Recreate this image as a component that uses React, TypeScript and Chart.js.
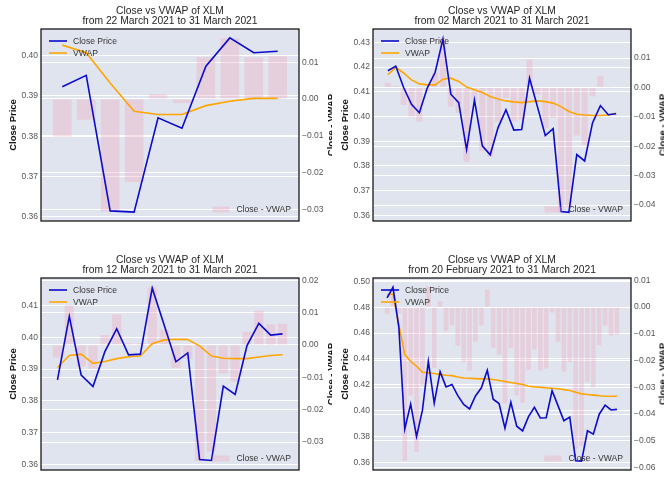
import React, { useEffect, useRef } from "react";
import { Chart, registerables } from "chart.js";

Chart.register(...registerables);

const FONT = "'Liberation Sans', Arial, Helvetica, sans-serif";

// Daily dates, 20 Feb 2021 .. 31 Mar 2021
const dates = [
  "2021-02-20", "2021-02-21", "2021-02-22", "2021-02-23", "2021-02-24", "2021-02-25", "2021-02-26", "2021-02-27", "2021-02-28",
  "2021-03-01", "2021-03-02", "2021-03-03", "2021-03-04", "2021-03-05", "2021-03-06", "2021-03-07", "2021-03-08", "2021-03-09",
  "2021-03-10", "2021-03-11", "2021-03-12", "2021-03-13", "2021-03-14", "2021-03-15", "2021-03-16", "2021-03-17", "2021-03-18",
  "2021-03-19", "2021-03-20", "2021-03-21", "2021-03-22", "2021-03-23", "2021-03-24", "2021-03-25", "2021-03-26", "2021-03-27",
  "2021-03-28", "2021-03-29", "2021-03-30", "2021-03-31",
];

// XLM close price for the same days
const closeAll = [
  0.4872, 0.4954, 0.4643, 0.3860, 0.4052, 0.3802, 0.4005, 0.4382, 0.4060, 0.4303,
  0.4185, 0.4204, 0.4117, 0.4049, 0.4015, 0.4115, 0.4178, 0.4313, 0.4090, 0.4056,
  0.3866, 0.4066, 0.3881, 0.3845, 0.3955, 0.4027, 0.3945, 0.3947, 0.4155, 0.4040,
  0.3923, 0.3951, 0.3615, 0.3612, 0.3846, 0.3820, 0.3974, 0.4044, 0.4007, 0.4011,
];

// VWAP per window
const vwap22 = [0.4026, 0.4007, 0.3932, 0.3862, 0.3854, 0.3854, 0.3876, 0.3887, 0.3894, 0.3894];
const vwap02 = [
  0.4169, 0.4199, 0.4176, 0.4148, 0.4132, 0.4128, 0.4128, 0.4151, 0.4155, 0.4142,
  0.4119, 0.4108, 0.4097, 0.4081, 0.4071, 0.4063, 0.4059, 0.4056, 0.4060, 0.4063,
  0.4060, 0.4054, 0.4040, 0.4020, 0.4009, 0.4006, 0.4004, 0.4004, 0.4006, 0.4013,
];
const vwap12 = [
  0.3905, 0.3943, 0.3947, 0.3918, 0.3924, 0.3933, 0.3939, 0.3941, 0.3980, 0.3992,
  0.3994, 0.3993, 0.3973, 0.3941, 0.3934, 0.3933, 0.3933, 0.3938, 0.3943, 0.3945,
];
const vwap20 = [
  0.4897, 0.4902, 0.4666, 0.4434, 0.4383, 0.4344, 0.4298, 0.4293, 0.4288, 0.4280,
  0.4275, 0.4272, 0.4262, 0.4254, 0.4252, 0.4249, 0.4247, 0.4247, 0.4242, 0.4234,
  0.4226, 0.4219, 0.4211, 0.4203, 0.4190, 0.4185, 0.4182, 0.4177, 0.4175, 0.4170,
  0.4164, 0.4157, 0.4144, 0.4131, 0.4126, 0.4121, 0.4116, 0.4113, 0.4113, 0.4113,
];

// Close - VWAP per window
const diff22 = [-0.0102, -0.0056, -0.0305, -0.0225, 0.0013, -0.0011, 0.0113, 0.0165, 0.0113, 0.0116];
const diff02 = [
  0.0016, 0.0005, -0.0059, -0.0099, -0.0117, -0.0013, 0.0050, 0.0168, -0.0065, -0.0086,
  -0.0253, -0.0042, -0.0216, -0.0236, -0.0116, -0.0036, -0.0114, -0.0109, 0.0095, -0.0023,
  -0.0137, -0.0103, -0.0425, -0.0408, -0.0163, -0.0195, -0.0030, 0.0040, 0.0001, -0.0002,
];
const diff12 = [
  -0.0039, 0.0123, -0.0066, -0.0073, 0.0031, 0.0094, 0.0006, 0.0006, 0.0178, 0.0048,
  -0.0071, -0.0042, -0.0358, -0.0329, -0.0088, -0.0113, 0.0041, 0.0106, 0.0064, 0.0066,
];
const diff20 = [
  -0.0025, 0.0052, -0.0023, -0.0574, -0.0331, -0.0542, -0.0293, 0.0078, -0.0228, 0.0023,
  -0.0090, -0.0068, -0.0145, -0.0205, -0.0237, -0.0129, -0.0069, 0.0066, -0.0152, -0.0178,
  -0.0360, -0.0153, -0.0330, -0.0358, -0.0235, -0.0158, -0.0237, -0.0230, -0.0020, -0.0130,
  -0.0241, -0.0206, -0.0529, -0.0519, -0.0280, -0.0301, -0.0142, -0.0069, -0.0106, -0.0102,
];

// Tick values
const ticks22L = [0.36, 0.37, 0.38, 0.39, 0.4];
const ticks22R = [-0.03, -0.02, -0.01, 0, 0.01];
const ticks02L = [0.36, 0.37, 0.38, 0.39, 0.4, 0.41, 0.42, 0.43];
const ticks02R = [-0.04, -0.03, -0.02, -0.01, 0, 0.01];
const ticks12L = [0.36, 0.37, 0.38, 0.39, 0.4, 0.41];
const ticks12R = [-0.03, -0.02, -0.01, 0, 0.01, 0.02];
const ticks20L = [0.36, 0.38, 0.4, 0.42, 0.44, 0.46, 0.48, 0.5];
const ticks20R = [-0.06, -0.05, -0.04, -0.03, -0.02, -0.01, 0, 0.01];

// Axis ranges [min, max]
const range22L = [0.359, 0.4066];
const range22R = [-0.0331, 0.019];
const range02L = [0.3577, 0.4354];
const range02R = [-0.0454, 0.0199];
const range12L = [0.3582, 0.4187];
const range12R = [-0.0386, 0.0207];
const range20L = [0.3543, 0.5026];
const range20R = [-0.0609, 0.0109];

const TITLE = "Close vs VWAP of XLM";
const subtitles = [
  "from 22 March 2021 to 31 March 2021",
  "from 02 March 2021 to 31 March 2021",
  "from 12 March 2021 to 31 March 2021",
  "from 20 February 2021 to 31 March 2021",
];

const CLOSE_COLOR = "#0b0bcc";
const VWAP_COLOR = "#ffa500";
const BAR_COLOR = "rgba(240,170,190,0.36)";
const BG = "#e0e4ee";

const panels = [
  { left: 0, top: 0, start: 30, sub: subtitles[0], vwap: vwap22, diff: diff22, rl: range22L, rr: range22R, tl: ticks22L, tr: ticks22R },
  { left: 332, top: 0, start: 10, sub: subtitles[1], vwap: vwap02, diff: diff02, rl: range02L, rr: range02R, tl: ticks02L, tr: ticks02R },
  { left: 0, top: 249, start: 20, sub: subtitles[2], vwap: vwap12, diff: diff12, rl: range12L, rr: range12R, tl: ticks12L, tr: ticks12R },
  { left: 332, top: 249, start: 0, sub: subtitles[3], vwap: vwap20, diff: diff20, rl: range20L, rr: range20R, tl: ticks20L, tr: ticks20R },
];

const fmt = (v: number) => {
  const s = (Math.abs(v) < 1e-9 ? 0 : v).toFixed(2);
  return s.replace("-", "\u2212");
};

const decoPlugin = {
  id: "deco",
  beforeDraw(chart: any) {
    const { ctx, chartArea: a } = chart;
    ctx.save();
    ctx.fillStyle = BG;
    ctx.fillRect(a.left, a.top, a.right - a.left, a.bottom - a.top);
    ctx.restore();
  },
  afterDraw(chart: any, _args: any, opts: any) {
    const { ctx, chartArea: a } = chart;
    ctx.save();
    // frame
    ctx.strokeStyle = "#111";
    ctx.lineWidth = 1.25;
    ctx.strokeRect(a.left, a.top, a.right - a.left, a.bottom - a.top);
    // title
    const cx = (a.left + a.right) / 2;
    ctx.fillStyle = "#262626";
    ctx.font = `10.3px ${FONT}`;
    ctx.textAlign = "center";
    ctx.textBaseline = "middle";
    ctx.fillText(TITLE, cx, 11.5);
    ctx.fillText(opts.sub, cx, 21.5);
    // upper-left legend
    ctx.font = `8.6px ${FONT}`;
    ctx.textAlign = "left";
    ctx.fillStyle = "#333";
    const rows = [
      { label: "Close Price", color: CLOSE_COLOR, y: a.top + 12 },
      { label: "VWAP", color: VWAP_COLOR, y: a.top + 24 },
    ];
    rows.forEach((r) => {
      ctx.strokeStyle = r.color;
      ctx.lineWidth = 1.6;
      ctx.beginPath();
      ctx.moveTo(a.left + 8, r.y);
      ctx.lineTo(a.left + 26, r.y);
      ctx.stroke();
      ctx.fillText(r.label, a.left + 32, r.y + 0.5);
    });
    // lower-right legend
    const ly = a.bottom - 11.5;
    ctx.textAlign = "right";
    const lbl = "Close - VWAP";
    const tx = a.right - 8;
    ctx.fillText(lbl, tx, ly + 0.5);
    const w = ctx.measureText(lbl).width;
    ctx.fillStyle = BAR_COLOR;
    ctx.fillRect(tx - w - 24, ly - 3, 17, 6);
    ctx.restore();
  },
};

function Panel({ cfg }: { cfg: any }) {
  const ref = useRef<HTMLCanvasElement | null>(null);
  useEffect(() => {
    const n = cfg.vwap.length;
    const close = closeAll.slice(cfg.start, cfg.start + n);
    const labels = dates.slice(cfg.start, cfg.start + n);
    const m = 0.05 * (n - 1 + 0.8);
    const pts = (arr: number[]) => arr.map((v, i) => ({ x: i, y: v }));
    const tickFont = { family: FONT, size: 8.5 };
    const chart = new Chart(ref.current as HTMLCanvasElement, {
      type: "bar",
      data: {
        labels,
        datasets: [
          {
            type: "line",
            label: "Close Price",
            data: pts(close),
            borderColor: CLOSE_COLOR,
            borderWidth: 1.6,
            pointRadius: 0,
            tension: 0,
            yAxisID: "y",
            order: 1,
          },
          {
            type: "line",
            label: "VWAP",
            data: pts(cfg.vwap),
            borderColor: VWAP_COLOR,
            borderWidth: 1.6,
            pointRadius: 0,
            tension: 0,
            yAxisID: "y",
            order: 2,
          },
          {
            type: "bar",
            label: "Close - VWAP",
            data: pts(cfg.diff),
            backgroundColor: BAR_COLOR,
            borderWidth: 0,
            barPercentage: 0.78,
            categoryPercentage: 1,
            yAxisID: "y1",
            order: 3,
          },
        ],
      } as any,
      options: {
        responsive: false,
        animation: false,
        events: [],
        layout: { padding: { top: 29, bottom: 28, left: 0, right: 0 } },
        plugins: {
          legend: { display: false },
          title: { display: false },
          tooltip: { enabled: false },
          deco: { sub: cfg.sub },
        } as any,
        scales: {
          x: {
            type: "linear",
            min: -0.4 - m,
            max: n - 1 + 0.4 + m,
            display: false,
            offset: false,
          },
          y: {
            position: "left",
            min: cfg.rl[0],
            max: cfg.rl[1],
            afterBuildTicks: (s: any) => {
              s.ticks = cfg.tl.map((v: number) => ({ value: v }));
            },
            afterFit: (s: any) => {
              s.width = 41;
            },
            grid: { color: "#ffffff", lineWidth: 1.1, drawTicks: false },
            border: { display: false },
            ticks: { padding: 3, color: "#555", font: tickFont, callback: (v: any) => fmt(Number(v)) },
            title: {
              display: true,
              text: "Close Price",
              color: "#111",
              font: { family: FONT, size: 9.5, weight: "bold" },
              padding: { top: 7.6, bottom: 0 },
            },
          },
          y1: {
            position: "right",
            min: cfg.rr[0],
            max: cfg.rr[1],
            afterBuildTicks: (s: any) => {
              s.ticks = cfg.tr.map((v: number) => ({ value: v }));
            },
            afterFit: (s: any) => {
              s.width = 33;
            },
            grid: { color: "#ffffff", lineWidth: 1.1, drawTicks: false },
            border: { display: false },
            ticks: { padding: 3, color: "#555", font: tickFont, callback: (v: any) => fmt(Number(v)) },
          },
        },
      } as any,
      plugins: [decoPlugin as any],
    });
    return () => chart.destroy();
  }, [cfg]);

  return (
    <div
      style={{
        position: "absolute",
        left: cfg.left,
        top: cfg.top,
        width: 332,
        height: 249,
        overflow: "hidden",
        background: "#fff",
      }}
    >
      <canvas ref={ref} width={332} height={249} style={{ display: "block", width: 332, height: 249 }} />
      <div
        style={{
          position: "absolute",
          left: 329.5,
          top: 125,
          transform: "translate(-50%, -50%) rotate(-90deg)",
          font: `bold 9.5px ${FONT}`,
          color: "#111",
          whiteSpace: "nowrap",
          lineHeight: "11px",
        }}
      >
        Close - VWAP
      </div>
    </div>
  );
}

export default function App() {
  return (
    <div
      style={{
        position: "fixed",
        left: 0,
        top: 0,
        width: 664,
        height: 498,
        background: "#fff",
        overflow: "hidden",
      }}
    >
      {panels.map((p, i) => (
        <Panel key={i} cfg={p} />
      ))}
    </div>
  );
}
